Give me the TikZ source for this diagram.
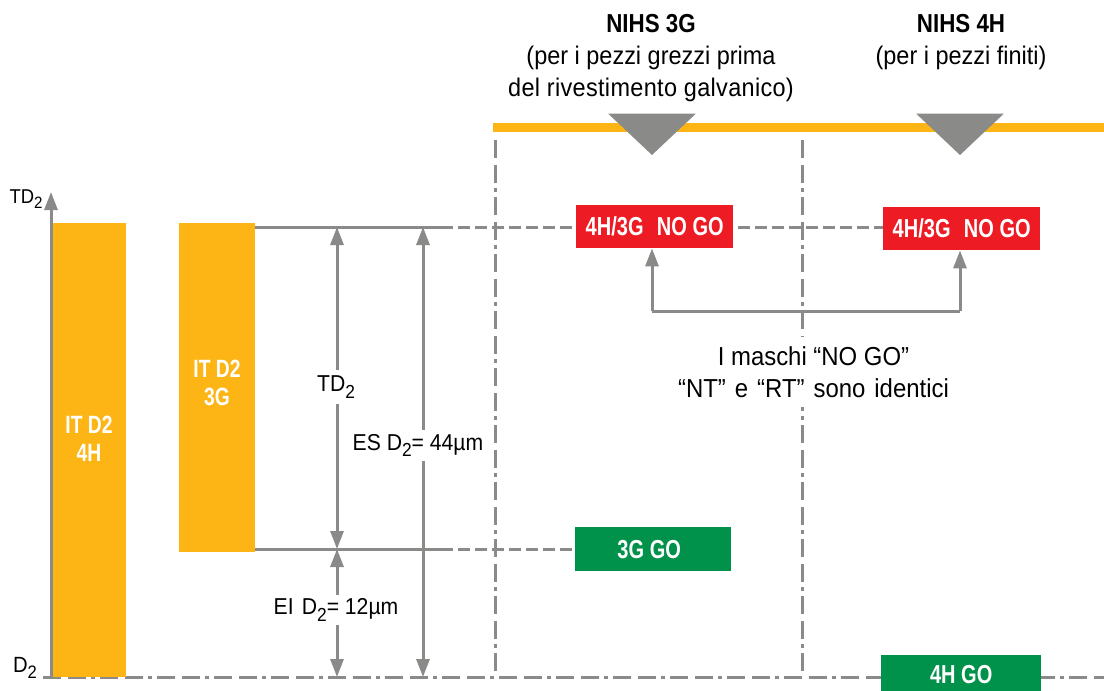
\documentclass[tikz,border=0pt]{standalone}
\usepackage{graphicx}
\usepackage{fontspec}
\setmainfont[FakeStretch=0.92]{Liberation Sans}
\newfontfamily\narrowbold[FakeStretch=0.77]{Liberation Sans Bold}
\newfontfamily\headbold[FakeStretch=0.86]{Liberation Sans Bold}
\newfontfamily\widebody[FakeStretch=0.92,LetterSpace=1.3]{Liberation Sans}
\usetikzlibrary{arrows.meta}
\definecolor{axisgrey}{HTML}{8A8A88}
\definecolor{barorange}{HTML}{FDB515}
\definecolor{nogored}{HTML}{ED1C24}
\definecolor{gogreen}{HTML}{00924A}
\newcommand{\subtwo}{\raisebox{-.28em}{\scalebox{.82}{2}}}
\tikzset{
  every node/.style={font=\fontsize{25.5}{32}\selectfont, text=black, inner sep=0pt},
  bar/.style={fill=barorange, draw=none, minimum width=#1, anchor=north west},
  barlabel/.style={font=\narrowbold\fontsize{25}{28}\selectfont, text=white, align=center},
  gatebox/.style={draw=none, anchor=north west, text=white, font=\narrowbold\fontsize{26}{30}\selectfont, minimum height=43pt},
  nogo/.style={gatebox, fill=nogored, minimum width=157pt},
  go/.style={gatebox, fill=gogreen},
  conn/.style={draw=axisgrey, line width=3pt},
  dimline/.style={conn, {Triangle[length=18pt,width=13pt]}-{Triangle[length=18pt,width=13pt]}},
  uptip/.style={conn, -{Triangle[length=18pt,width=13pt]}},
  dashline/.style={conn, dash pattern=on 12pt off 5pt, dash phase=12pt},
  center line/.style={conn, dash pattern=on 18pt off 7pt on 18pt off 5pt on 4pt off 5pt},
  label/.style={fill=white, inner xsep=2pt, inner ysep=4pt, align=center},
  dimlabel/.style={label, font=\fontsize{23}{28}\selectfont},
  head/.style={align=center},
}
\begin{document}
\begin{tikzpicture}[x=1pt,y=-1pt]
\useasboundingbox (0,0) rectangle (1104,691);
% anchors
\coordinate (topL) at (493,127.5); \coordinate (topR) at (1104,127.5);
\coordinate (axB) at (51,677); \coordinate (axT) at (51,192);
\coordinate (zeroL) at (43,677); \coordinate (zeroR) at (1104,677);
\coordinate (v1T) at (495,140); \coordinate (v1B) at (495,677);
\coordinate (v2T) at (802,140); \coordinate (v2B) at (802,677);
\coordinate (tolT) at (255,227); \coordinate (tolTd) at (453,227); \coordinate (tolB) at (255,549); \coordinate (tolBd) at (453,549);
\coordinate (tdT) at (337,227); \coordinate (tdB) at (337,549); \coordinate (eiB) at (337,677);
\coordinate (esT) at (423,227); \coordinate (esB) at (423,677);
% centre lines
\draw[center line] (v1T) -- (v1B);
\draw[center line] (v2T) -- (v2B);
\draw[center line] (zeroL) -- (zeroR);
% bars
\node[bar=74pt, minimum height=454pt] (bar4) at (52,223) {};
\node[bar=76pt, minimum height=329pt] (bar3) at (179,223) {};
\node[barlabel] (lab4) at (89,438.5) {IT D2\\4H};
\node[barlabel] (lab3) at (217,383) {IT D2\\3G};
% axis
\draw[uptip] (axB) -- (axT);
% top line and markers
\draw[draw=barorange, line width=9pt] (topL) -- (topR);
\fill[axisgrey] (608,113.5) -- (696,113.5) -- (652,155) -- cycle;
\fill[axisgrey] (916,113.5) -- (1004,113.5) -- (960,155) -- cycle;
% gate boxes
\node[nogo] (ng1) at (576,205) {4H/3G\hspace{.3em} NO GO};
\node[nogo] (ng2) at (883,207) {4H/3G\hspace{.3em} NO GO};
\node[go, minimum width=156pt, minimum height=44pt] (g3) at (575,527) {\hspace*{-8pt}3G GO};
\node[go, minimum width=160pt, minimum height=38pt] (g4) at (881,655) {4H GO};
% limits
\draw[conn] (tolT) -- (tolTd);
\draw[dashline] (tolTd) -- (ng1.west |- tolTd);
\draw[dashline] (ng1.east |- tolTd) -- (ng2.west |- tolTd);
\draw[conn] (tolB) -- (tolBd);
\draw[dashline] (tolBd) -- (g3.west |- tolBd);
% dimensions
\draw[dimline] (tdT) -- (tdB);
\draw[dimline] (tdB) -- (eiB);
\draw[dimline] (esT) -- (esB);
\node[dimlabel, inner ysep=6pt] (tdl) at (336,387) {TD\subtwo};
\node[dimlabel] (eil) at (336,610) {EI\hspace{.1em} D\subtwo= 12µm};
\node[dimlabel] (esl) at (418,445.5) {ES D\subtwo= 44µm};
% bracket
\coordinate (br1) at (652,311); \coordinate (br2) at (960,311);
\draw[uptip] (br1) -- (ng1.south -| br1);
\draw[uptip] (br2) -- (ng2.south -| br2);
\draw[conn] (br1) -- (br2);
\node[label, font=\fontsize{26}{32}\selectfont, inner ysep=9pt, inner xsep=3pt] (note) at (813.5,372) {I maschi “NO GO”\\\spaceskip=9pt\relax “NT” e “RT” sono identici};
% axis labels
\node[font=\fontsize{20}{20}\selectfont] (tdaxis) at (26,199) {TD\subtwo};
\node[font=\fontsize{22}{22}\selectfont] (d2axis) at (25,668) {D\subtwo};
% headings
\node[head] (h1) at (651,58.5) {{\headbold\fontsize{26}{32}\selectfont NIHS 3G}\\(per i pezzi grezzi prima\\{\widebody del rivestimento galvanico)}};
\node[head] (h2) at (961,42.5) {{\headbold\fontsize{26}{32}\selectfont NIHS 4H}\\(per i pezzi finiti)};
\end{tikzpicture}
\end{document}
